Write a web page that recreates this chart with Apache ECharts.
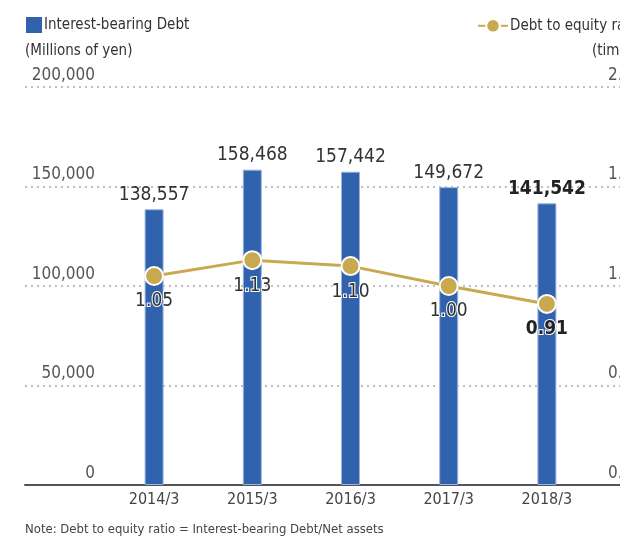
<!DOCTYPE html>
<html>
<head>
<meta charset="utf-8">
<script src="https://cdn.jsdelivr.net/npm/echarts@6/dist/echarts.min.js"></script>
<style>
  html, body { margin: 0; padding: 0; overflow: hidden; background: #fff; }
  #chart { width: 660px; height: 540px; }
</style>
</head>
<body>
<div id="chart"></div>
<script>
const categories = ['2014/3', '2015/3', '2016/3', '2017/3', '2018/3']
const debt = [138557, 158468, 157442, 149672, 141542]
const ratio = [1.05, 1.13, 1.10, 1.00, 0.91]
const debtTicks = [0, 50000, 100000, 150000, 200000]
const ratioTicks = [0, 0.5, 1.0, 1.5, 2.0]

const FONT = '"Liberation Sans Narrow", "DejaVu Sans Condensed", "Roboto Condensed", Roboto, sans-serif'
const BLUE = '#3162ae'
const GOLD = '#c9a94f'
const last = categories.length - 1

const fmt = v => v.toLocaleString('en-US')

const dom = echarts.init(document.getElementById('chart'))
const option = {
  animation: false,
  textStyle: { fontFamily: FONT },
  title: {
    text: 'Note: Debt to equity ratio = Interest-bearing Debt/Net assets',
    left: 20,
    top: 518,
    textStyle: { fontFamily: FONT, fontSize: 13, fontWeight: 'normal', color: '#444' }
  },
  legend: [
    {
      data: ['Interest-bearing Debt'],
      left: 21,
      top: 12,
      icon: 'rect',
      itemWidth: 16,
      itemHeight: 16,
      itemStyle: { borderWidth: 0 },
      textStyle: { fontFamily: FONT, fontSize: 15, color: '#333', padding: [0, 0, 0, -3] }
    },
    {
      data: ['Debt to equity ratio'],
      left: 472,
      top: 13,
      itemWidth: 30,
      itemHeight: 17,
      textStyle: { fontFamily: FONT, fontSize: 15, color: '#333', padding: [0, 0, 0, -3] }
    }
  ],
  grid: [
    { left: 25, top: 87, width: 615, height: 398 },
    { left: 105, top: 87, width: 491, height: 398 }
  ],
  xAxis: [
    {
      gridIndex: 0,
      type: 'value',
      min: 0,
      max: 1,
      axisLine: { show: true, lineStyle: { color: '#555', width: 2 } },
      axisTick: { show: false },
      axisLabel: { show: false },
      splitLine: { show: false }
    },
    {
      gridIndex: 1,
      type: 'category',
      data: categories,
      axisLine: { show: false },
      axisTick: { show: false },
      axisLabel: { fontFamily: FONT, fontSize: 16, color: '#444', margin: 7 }
    }
  ],
  yAxis: [
    {
      gridIndex: 0,
      type: 'value',
      min: debtTicks[0],
      max: debtTicks[debtTicks.length - 1],
      interval: debtTicks[1] - debtTicks[0],
      name: '(Millions of yen)',
      nameLocation: 'end',
      nameGap: 36,
      nameTextStyle: { fontFamily: FONT, fontSize: 15, color: '#333', align: 'left', verticalAlign: 'middle' },
      axisLine: { show: false },
      axisTick: { show: false },
      axisLabel: {
        inside: true,
        margin: 70,
        align: 'right',
        verticalAlign: 'bottom',
        padding: [0, 0, 3, 0],
        fontFamily: FONT,
        fontSize: 17,
        color: '#555',
        formatter: v => fmt(v)
      },
      splitLine: { show: true, lineStyle: { color: '#aaa', type: [2, 4], width: 1.5 } }
    },
    {
      gridIndex: 0,
      type: 'value',
      position: 'right',
      min: ratioTicks[0],
      max: ratioTicks[ratioTicks.length - 1],
      interval: ratioTicks[1] - ratioTicks[0],
      name: '(times)',
      nameLocation: 'end',
      nameGap: 36,
      nameTextStyle: { fontFamily: FONT, fontSize: 15, color: '#333', align: 'right', verticalAlign: 'middle' },
      axisLine: { show: false },
      axisTick: { show: false },
      axisLabel: {
        inside: true,
        margin: 32,
        align: 'left',
        verticalAlign: 'bottom',
        padding: [0, 0, 3, 0],
        fontFamily: FONT,
        fontSize: 17,
        color: '#555',
        formatter: v => v.toFixed(1)
      },
      splitLine: { show: false }
    },
    {
      gridIndex: 1,
      type: 'value',
      show: false,
      min: debtTicks[0],
      max: debtTicks[debtTicks.length - 1]
    },
    {
      gridIndex: 1,
      type: 'value',
      show: false,
      min: ratioTicks[0],
      max: ratioTicks[ratioTicks.length - 1]
    }
  ],
  series: [
    {
      name: 'Interest-bearing Debt',
      type: 'bar',
      xAxisIndex: 1,
      yAxisIndex: 2,
      barWidth: 19,
      itemStyle: { color: BLUE, borderColor: '#9ab4dc', borderWidth: 1 },
      data: debt.map((v, i) => ({
        value: v,
        label: i === last ? { fontWeight: 'bold', color: '#222' } : {}
      })),
      label: {
        show: true,
        position: 'top',
        distance: 5,
        fontFamily: FONT,
        fontSize: 19,
        color: '#333',
        formatter: p => fmt(p.value)
      }
    },
    {
      name: 'Debt to equity ratio',
      type: 'line',
      xAxisIndex: 1,
      yAxisIndex: 3,
      symbol: 'circle',
      symbolSize: 18,
      lineStyle: { color: GOLD, width: 3 },
      itemStyle: { color: GOLD, borderColor: '#fff', borderWidth: 2 },
      data: ratio.map((v, i) => ({
        value: v,
        label: i === last ? { fontWeight: 'bold', color: '#222' } : {}
      })),
      label: {
        show: true,
        position: 'bottom',
        distance: 6,
        fontFamily: FONT,
        fontSize: 19,
        color: '#333',
        textBorderColor: '#fff',
        textBorderWidth: 2,
        formatter: p => p.value.toFixed(2)
      },
      z: 3
    }
  ]
}
dom.setOption(option)
</script>
</body>
</html>
